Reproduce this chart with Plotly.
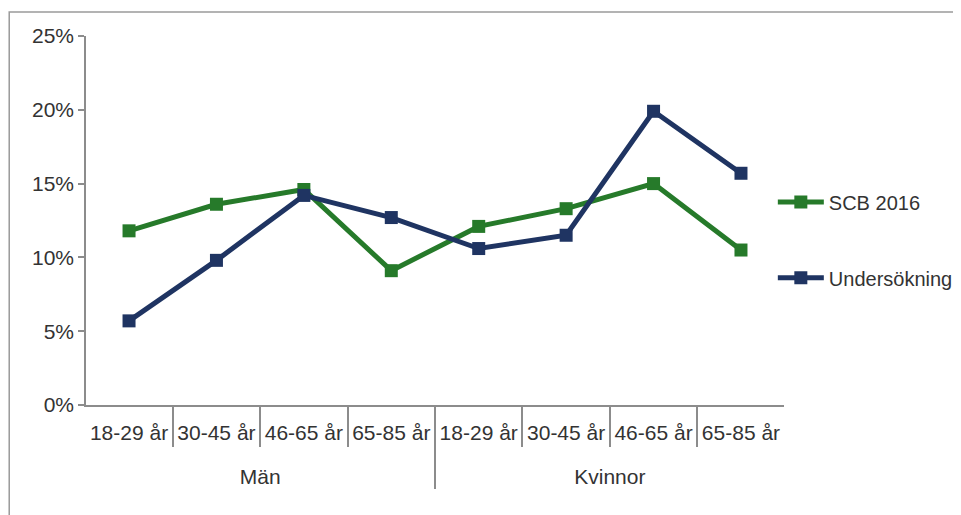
import plotly.graph_objects as go

groups = ["Män"] * 4 + ["Kvinnor"] * 4
ages = ["18-29 år", "30-45 år", "46-65 år", "65-85 år"] * 2
scb = [11.8, 13.6, 14.6, 9.1, 12.1, 13.3, 15.0, 10.5]
unders = [5.7, 9.8, 14.2, 12.7, 10.6, 11.5, 19.9, 15.7]

green = "#267a2a"
navy = "#1f3462"
font = "Liberation Sans, Arial, sans-serif"
txt = "#333333"
axc = "#8c8c8c"

# an empty second line under each age label leaves room for the group row
age_labels = [a + "<br>&nbsp;" for a in ages]

fig = go.Figure()
fig.add_trace(go.Scatter(x=[groups, age_labels], y=scb, name="SCB 2016", mode="lines+markers",
                         line=dict(color=green, width=5), showlegend=True,
                         marker=dict(symbol="square", size=13, color=green), legend="legend"))
fig.add_trace(go.Scatter(x=[groups, age_labels], y=unders, name="Undersökning", mode="lines+markers",
                         line=dict(color=navy, width=5), showlegend=True,
                         marker=dict(symbol="square", size=13, color=navy), legend="legend2"))

fig.update_layout(
    width=953, height=507,
    margin=dict(l=78, r=177, t=28, b=110, autoexpand=False),
    paper_bgcolor="white", plot_bgcolor="white",
    showlegend=True,
    font=dict(family=font, size=20, color=txt),
    legend=dict(x=0.984, y=0.55, xanchor="left", yanchor="middle", bgcolor="rgba(0,0,0,0)",
                itemwidth=46, font=dict(size=20, color=txt), visible=True),
    legend2=dict(x=0.984, y=0.345, xanchor="left", yanchor="middle", bgcolor="rgba(0,0,0,0)",
                 itemwidth=46, font=dict(size=20, color=txt), visible=True),
    xaxis=dict(type="multicategory", showline=True, linecolor=axc, linewidth=1.5,
               ticks="outside", tickson="boundaries", ticklen=40, tickcolor=axc, tickwidth=1.5,
               showdividers=True, dividercolor=axc, dividerwidth=1.5, tickangle=0,
               ticklabelstandoff=8, automargin=False,
               showgrid=False, tickfont=dict(size=21, color=txt)),
    yaxis=dict(range=[0, 25], dtick=5, ticksuffix="%", showgrid=False, zeroline=False,
               showline=True, linecolor=axc, linewidth=1.5, ticks="outside", ticklen=6,
               automargin=False,
               tickcolor=axc, tickwidth=1.5, tickfont=dict(size=21, color=txt)),
    shapes=[dict(type="rect", xref="paper", yref="paper", x0=-0.110, x1=1.4, y0=-0.4, y1=1.065,
                 line=dict(color="#9a9a9a", width=1.5), fillcolor="rgba(0,0,0,0)", layer="below")],
)

fig.write_html("out.html")
